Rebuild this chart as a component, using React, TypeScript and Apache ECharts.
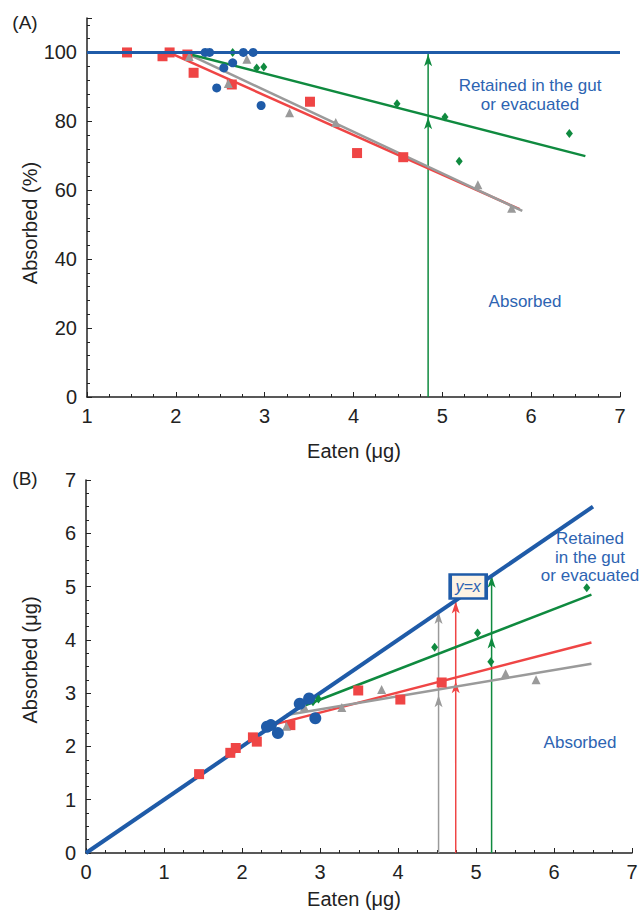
import React, { useEffect, useRef } from 'react';
import * as echarts from 'echarts';

// ---------- Panel A: % absorbed vs eaten ----------
const redA = [[1.45, 100], [1.85, 98.9], [1.93, 100], [2.13, 99.4], [2.2, 94.1], [2.63, 90.7], [3.51, 85.7], [4.04, 70.8], [4.56, 69.6]];
const grayA = [[2.15, 98.8], [2.59, 91.0], [2.8, 98.0], [3.28, 82.5], [3.8, 79.7], [5.4, 61.6], [5.78, 54.8]];
const blueA = [[2.33, 100], [2.38, 100], [2.46, 89.7], [2.54, 95.5], [2.64, 97.0], [2.76, 100], [2.87, 100], [2.96, 84.6]];
const greenA = [[2.64, 100], [2.91, 95.5], [2.99, 95.8], [4.49, 85.1], [5.03, 81.3], [5.19, 68.4], [6.43, 76.5]];

const blueLineA = [[1, 100], [7, 100]];
const redLineA = [[1.92, 100], [5.87, 54.5]];
const grayLineA = [[2.12, 99.7], [5.9, 54]];
const greenLineA = [[2.08, 100], [6.61, 69.9]];

const arrowXA = 4.84;
const arrowMidA = 81.5;
const arrowTopA = 99.8;

// ---------- Panel B: absorbed vs eaten (µg) ----------
const redB = [[1.45, 1.48], [1.85, 1.88], [1.92, 1.97], [2.14, 2.17], [2.19, 2.09], [2.62, 2.4], [3.49, 3.05], [4.03, 2.88], [4.56, 3.2]];
const grayB = [[2.57, 2.38], [2.8, 2.74], [3.28, 2.73], [3.79, 3.07], [5.38, 3.37], [5.77, 3.25]];
const blueB = [[2.32, 2.37], [2.37, 2.4], [2.46, 2.25], [2.74, 2.8], [2.86, 2.9], [2.94, 2.53]];
const greenB = [[2.91, 2.84], [2.98, 2.89], [4.47, 3.86], [5.02, 4.13], [5.19, 3.59], [6.42, 4.98]];

const blueLineB = [[0, 0], [6.5, 6.5]];
const redLineB = [[2.38, 2.4], [6.48, 3.95]];
const grayLineB = [[2.57, 2.59], [6.48, 3.55]];
const greenLineB = [[2.77, 2.75], [6.48, 4.85]];

const arrowXB = [4.52, 4.74, 5.2];
const arrowMidB = [2.98, 3.24, 4.08];
const arrowTopB = [4.54, 4.74, 5.22];

const yxBox = [[4.9, 5.0]];

const FONT = "'Liberation Sans', Arial, Helvetica, sans-serif";
const BLUE = '#1f5ba8';
const RED = '#ef4545';
const GREEN = '#0f8a3f';
const GRAY = '#9a9a9a';
const TEXT_BLUE = '#2d64b2';
const INK = '#222222';

function scatter(data: number[][], symbol: string, size: any, color: string, i: number) {
  return {
    type: 'scatter', xAxisIndex: i, yAxisIndex: i, data, symbol, symbolSize: size,
    itemStyle: { color, opacity: 1 }, z: 4, silent: true,
  };
}

function fitLine(data: number[][], color: string, width: number, i: number, z = 3) {
  return {
    type: 'line', xAxisIndex: i, yAxisIndex: i, data, showSymbol: false, symbol: 'none',
    lineStyle: { color, width }, itemStyle: { color }, z, silent: true,
  };
}

function arrow(x: number, mid: number, top: number, color: string, i: number) {
  const head = { symbol: 'arrow', symbolSize: [6, 12], symbolOffset: [0, 1] };
  return {
    type: 'line', xAxisIndex: i, yAxisIndex: i,
    data: [{ value: [x, 0], symbol: 'none' }, { value: [x, mid], ...head }, { value: [x, top], ...head }],
    showSymbol: true, symbol: 'none', lineStyle: { color, width: 1.5 }, itemStyle: { color, opacity: 1 }, z: 2, silent: true,
  };
}

const axisCommon = {
  axisLine: { onZero: false, lineStyle: { color: INK, width: 1.5 } },
  axisTick: { inside: true, length: 5, lineStyle: { color: INK, width: 1 } },
  minorTick: { show: true, splitNumber: 4, length: 3, lineStyle: { color: INK, width: 1 } },
  splitLine: { show: false },
  minorSplitLine: { show: false },
};

const labelStyle = { fontSize: 20, color: INK, fontFamily: FONT };

function txt(text: string, x: number, y: number, size: number, color: string, extra: any = {}) {
  return {
    type: 'text', x, y, silent: true, ...extra,
    style: { text, fontSize: size, fontFamily: FONT, fill: color, align: 'center', verticalAlign: 'middle', lineHeight: extra.lineHeight || size * 1.15 },
  };
}

export default function App() {
  const ref = useRef<HTMLDivElement>(null);
  useEffect(() => {
    document.body.style.margin = '0';
    const chart = echarts.init(ref.current!, null, { renderer: 'svg' });
    const option: any = {
      animation: false,
      grid: [
        { left: 87, top: 18, width: 533, height: 379 },
        { left: 86, top: 480, width: 546, height: 373 },
      ],
      xAxis: [
        {
          gridIndex: 0, type: 'value', min: 1, max: 7, interval: 1, ...axisCommon,
          axisLabel: { ...labelStyle, margin: 9 },
        },
        {
          gridIndex: 1, type: 'value', min: 0, max: 7, interval: 1, ...axisCommon,
          axisLabel: { ...labelStyle, margin: 9 },
        },
      ],
      yAxis: [
        {
          gridIndex: 0, type: 'value', min: 0, max: 110, interval: 20, ...axisCommon,
          minorTick: { ...axisCommon.minorTick, splitNumber: 5 },
          axisLabel: { ...labelStyle, margin: 10, formatter: (v: number) => (v > 100 ? '' : String(v)) },
        },
        {
          gridIndex: 1, type: 'value', min: 0, max: 7, interval: 1, ...axisCommon,
          axisLabel: { ...labelStyle, margin: 10 },
        },
      ],
      series: [
        // Panel A
        arrow(arrowXA, arrowMidA, arrowTopA, GREEN, 0),
        fitLine(redLineA, RED, 2.5, 0),
        fitLine(grayLineA, GRAY, 2.5, 0),
        fitLine(greenLineA, GREEN, 2.5, 0),
        scatter(redA, 'rect', 10, RED, 0),
        scatter(grayA, 'triangle', 9, GRAY, 0),
        scatter(greenA, 'diamond', [7, 9], GREEN, 0),
        scatter(blueA, 'circle', 9, BLUE, 0),
        fitLine(blueLineA, BLUE, 3, 0, 5),
        // Panel B
        arrow(arrowXB[0], arrowMidB[0], arrowTopB[0], GRAY, 1),
        arrow(arrowXB[1], arrowMidB[1], arrowTopB[1], RED, 1),
        arrow(arrowXB[2], arrowMidB[2], arrowTopB[2], GREEN, 1),
        fitLine(redLineB, RED, 2.5, 1),
        fitLine(grayLineB, GRAY, 2.5, 1),
        fitLine(greenLineB, GREEN, 2.5, 1),
        fitLine(blueLineB, BLUE, 4, 1, 4),
        scatter(redB, 'rect', 10, RED, 1),
        scatter(grayB, 'triangle', 9, GRAY, 1),
        scatter(greenB, 'diamond', [7, 9], GREEN, 1),
        scatter(blueB, 'circle', 12, BLUE, 1),
        {
          type: 'scatter', xAxisIndex: 1, yAxisIndex: 1, data: yxBox, symbol: 'rect', symbolSize: [36, 24],
          itemStyle: { color: '#fdf3e4', borderColor: BLUE, borderWidth: 3, opacity: 1 }, z: 10, silent: true,
          label: {
            show: true, position: 'inside', formatter: 'y=x', fontStyle: 'italic', fontSize: 16,
            color: TEXT_BLUE, fontFamily: FONT,
          },
        },
      ],
      graphic: [
        txt('(A)', 25, 22, 19, INK),
        txt('(B)', 25, 478, 19, INK),
        txt('Eaten (\u03bcg)', 354, 451, 20, INK),
        txt('Eaten (\u03bcg)', 354, 899, 20, INK),
        txt('Absorbed (%)', 30, 223, 20, INK, { rotation: Math.PI / 2 }),
        txt('Absorbed (\u03bcg)', 30, 660, 20, INK, { rotation: Math.PI / 2 }),
        txt('Retained in the gut\nor evacuated', 530, 95, 17, TEXT_BLUE, { lineHeight: 19 }),
        txt('Absorbed', 525, 301, 17, TEXT_BLUE),
        txt('Retained\nin the gut\nor evacuated', 590, 557, 17, TEXT_BLUE, { lineHeight: 18.5 }),
        txt('Absorbed', 580, 742, 17, TEXT_BLUE),
      ],
    };
    chart.setOption(option);
    return () => chart.dispose();
  }, []);
  return <div ref={ref} style={{ position: 'absolute', left: 0, top: 0, width: 642, height: 911 }} />;
}
